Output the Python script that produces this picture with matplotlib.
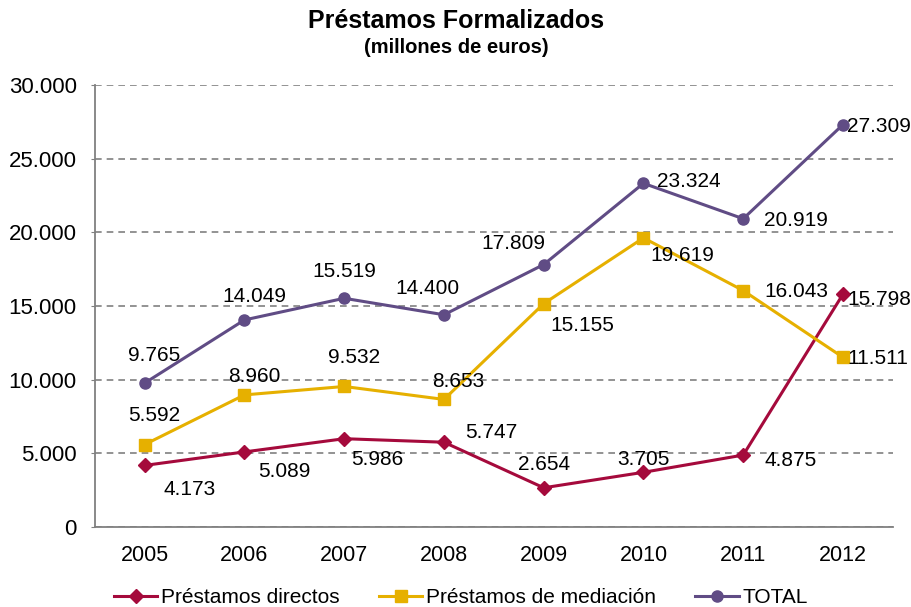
import matplotlib
matplotlib.use("Agg")
import matplotlib.pyplot as plt
from matplotlib.ticker import FuncFormatter, FixedLocator

plt.rcParams['font.family'] = ['Liberation Sans', 'DejaVu Sans']

years = ['2005', '2006', '2007', '2008', '2009', '2010', '2011', '2012']
directos = [4173, 5089, 5986, 5747, 2654, 3705, 4875, 15798]
mediacion = [5592, 8960, 9532, 8653, 15155, 19619, 16043, 11511]
total = [9765, 14049, 15519, 14400, 17809, 23324, 20919, 27309]

c_dir = '#A50A3C'
c_med = '#E6B000'
c_tot = '#604C85'

def fmt(v):
    return f"{int(v):,}".replace(',', '.')

fig = plt.figure(figsize=(9.12, 6.07), dpi=100)
ax = fig.add_axes([0.104, 0.132, 0.875, 0.728])

x = list(range(len(years)))
ax.plot(x, directos, color=c_dir, lw=2.2, marker='D', ms=7.5, label='Préstamos directos', zorder=3)
ax.plot(x, mediacion, color=c_med, lw=2.2, marker='s', ms=9, label='Préstamos de mediación', zorder=3)
ax.plot(x, total, color=c_tot, lw=2.2, marker='o', ms=8, label='TOTAL', zorder=3)

ax.set_xlim(-0.5, 7.5)
ax.set_ylim(0, 30000)
ax.yaxis.set_major_locator(FixedLocator(range(0, 30001, 5000)))
ax.yaxis.set_major_formatter(FuncFormatter(lambda v, p: fmt(v)))
ax.set_xticks(x)
ax.set_xticklabels(years)
ax.tick_params(axis='x', length=0, labelsize=15.5, pad=13)
ax.tick_params(axis='y', length=3, color='#808080', labelsize=16, pad=10)
ax.grid(axis='y', linestyle=(0, (4, 3)), color='#808080', lw=1.2)
ax.set_axisbelow(True)
for s in ['top', 'right']:
    ax.spines[s].set_visible(False)
for s in ['left', 'bottom']:
    ax.spines[s].set_color('#808080')
    ax.spines[s].set_linewidth(1.3)

# label offsets in points (dx, dy), ha
off_dir = [(32, -17, 'center'), (10, -14, 'left'), (5, -15, 'left'), (15, 7, 'left'),
           (0, 17, 'center'), (0, 9, 'center'), (15, -4, 'left'), (3, -4, 'left')]
off_med = [(7, 21, 'center'), (7, 13, 'center'), (7, 21, 'center'), (10, 13, 'center'),
           (5, -16, 'left'), (5, -13, 'left'), (15, -1, 'left'), (3, -1, 'left')]
off_tot = [(7, 20, 'center'), (7, 17, 'center'), (0, 19, 'center'), (-12, 19, 'center'),
           (-22, 15, 'center'), (10, 1, 'left'), (15, -1, 'left'), (3, -1, 'left')]

for series, offs in [(directos, off_dir), (mediacion, off_med), (total, off_tot)]:
    for i, v in enumerate(series):
        dx, dy, ha = offs[i]
        ax.annotate(fmt(v), (i, v), xytext=(dx, dy), textcoords='offset points',
                    ha=ha, va='center', fontsize=15, color='black', zorder=4)

fig.text(0.5, 0.965, 'Préstamos Formalizados', ha='center', va='center',
         fontsize=18, fontweight='bold')
fig.text(0.5, 0.921, '(millones de euros)', ha='center', va='center',
         fontsize=14.5, fontweight='bold')

leg = fig.legend(loc='center', bbox_to_anchor=(0.505, 0.015), ncol=3, frameon=False,
                 fontsize=15, handlelength=2.1, columnspacing=1.9, handletextpad=0.15,
                 borderaxespad=0)

fig.savefig('out.png', dpi=100)
